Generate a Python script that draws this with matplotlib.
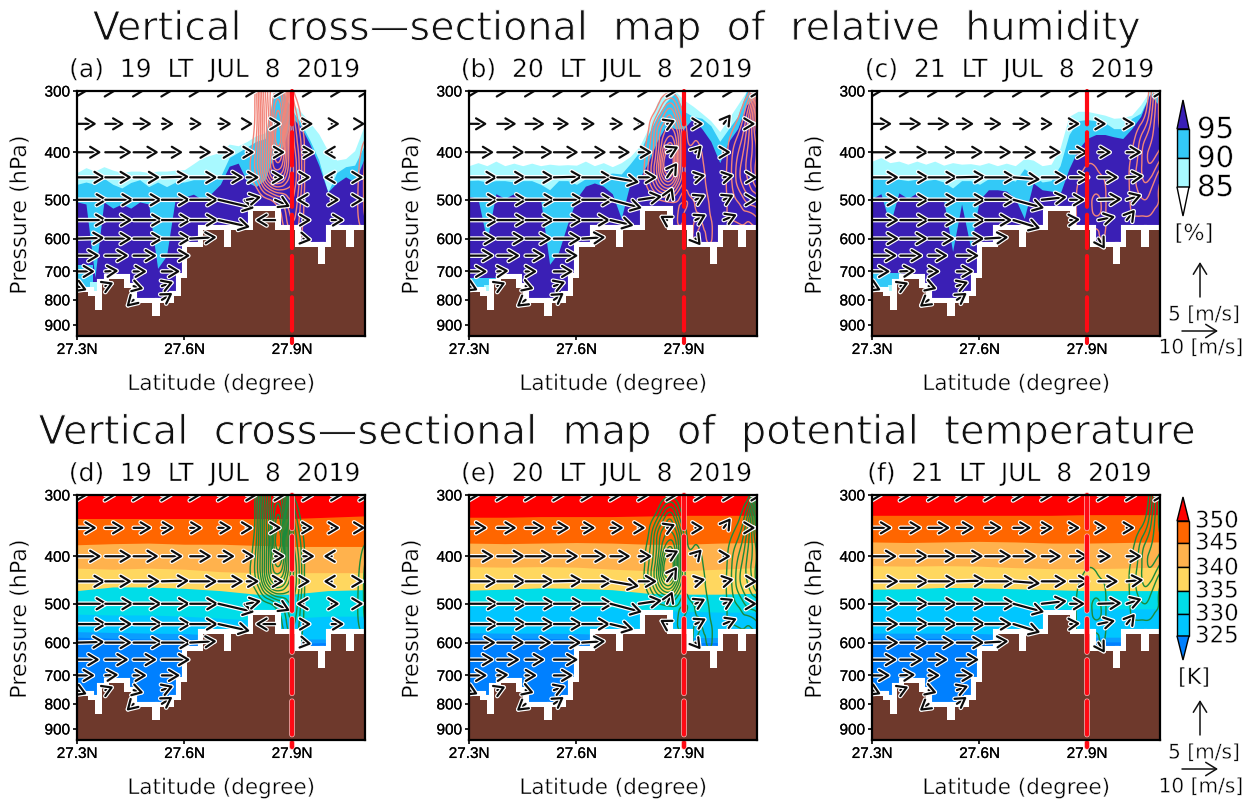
import numpy as np
import matplotlib
matplotlib.use("Agg")
import matplotlib.pyplot as plt
import matplotlib.patheffects as pe
import matplotlib.tri as mtri
from matplotlib.patches import FancyArrowPatch

n = np.nan
# ---------- axis values ----------
lat_min, lat_max = 27.3, 28.104
p_top, p_bot = 300, 948
lat_ticks = [27.3, 27.6, 27.9]
lat_tick_labels = ["27.3N", "27.6N", "27.9N"]
p_ticks = [300, 400, 500, 600, 700, 800, 900]
cross_lat = 27.9

# ---------- terrain ----------
terrain_edges = [27.3, 27.331, 27.349, 27.371, 27.389, 27.431, 27.45, 27.51, 27.531, 27.57, 27.589, 27.608,
                 27.652, 27.71, 27.731, 27.791, 27.852, 27.9095, 27.973, 27.993, 28.01, 28.052, 28.0733, 28.11]
terrain_p = [772, 784, 839, 744, 725, 758, 813, 862, 813, 784, 721, 625,
             576, 625, 576, 526, 576, 625, 676, 625, 576, 625, 576]

# ---------- relative humidity tops (hPa) ----------
rh_lats = [27.3 + 0.025 * i for i in range(33)]
p85_a = [440,430,437,428,435,440,437,437,440,437,437,435,434,422,410,405,400,385,388,380,370,365,300,300,317,331,348,367,397,415,412,397,356]
p90_a = [465,460,465,452,465,473,461,455,470,460,470,460,460,455,455,458,449,410,400,390,380,375,300,300,328,349,378,415,483,440,428,425,390]
p95_a = [505,510,720,505,520,510,520,505,510,690,650,494,494,487,500,485,465,427,421,460,470,455,405,390,340,355,385,425,482,462,449,460,415]
p85_b = [426,420,426,417,426,421,426,421,426,423,425,424,425,417,426,420,428,420,408,390,358,317,300,300,313,322,333,345,363,341,320,300,300]
p90_b = [457,456,460,457,457,460,457,457,465,477,457,457,465,453,453,445,441,443,422,400,368,338,316,303,330,338,341,353,380,358,338,300,300]
p95_b = [492,497,607,486,497,486,497,497,500,677,640,560,497,469,462,469,486,546,462,453,420,380,353,358,358,341,358,380,420,380,358,320,310]
p85_c = [417,410,420,417,423,417,423,417,425,420,423,422,425,420,426,421,426,412,415,426,423,392,338,330,330,333,336,341,340,336,320,300,300]
p90_c = [453,454,454,454,457,454,457,454,460,473,457,457,465,453,453,453,458,432,445,460,457,426,368,345,343,345,348,358,358,341,333,305,300]
p95_c = [497,486,562,484,497,484,497,497,500,637,510,625,500,477,477,480,497,546,462,477,480,486,432,395,375,368,368,372,375,358,338,305,320]
# patches low in the western valley: lat_from, lat_to, p_top
low_mid_a, low_pale_a = (27.30, 27.345, 680), (27.335, 27.372, 735)
low_mid_b, low_pale_b = (27.30, 27.38, 722), (27.342, 27.365, 745)
low_mid_c, low_pale_c = (27.30, 27.38, 705), (27.345, 27.37, 745)

# ---------- potential temperature band tops (hPa) ----------
th_lats = [27.3, 27.4, 27.5, 27.6, 27.7, 27.8, 27.9, 28.0, 28.1]
th_d = [[335,335,335,335,335,335,335,333,331],
        [379,377,376,378,378,380,382,382,382],
        [423,425,423,425,430,432,432,432,432],
        [470,462,462,465,470,478,478,470,468],
        [525,527,527,530,535,540,535,530,530],
        [570,572,574,575,580,590,590,590,590],
        [585,588,590,590,592,600,602,600,600]]
th_e = [[333,333,332,332,332,331,330,330,330],
        [376,377,376,375,376,378,378,376,375],
        [420,421,420,421,425,428,428,425,422],
        [469,467,464,465,468,476,478,478,476],
        [506,506,504,505,510,515,518,520,520],
        [573,574,574,575,578,585,586,586,586],
        [587,588,588,590,592,598,600,600,600]]
th_f = [[330,330,330,330,330,330,329,329,329],
        [374,375,374,373,374,376,376,375,374],
        [418,419,418,419,422,424,424,423,421],
        [467,466,463,464,466,468,470,470,470],
        [505,505,503,504,507,511,512,512,512],
        [574,574,574,575,578,584,585,585,585],
        [588,588,588,590,592,597,598,598,598]]
th_colors = ["#ff0000", "#ff6600", "#ffb24d", "#ffd75f", "#00dde8", "#00c6ff", "#0a9dff", "#0080ff"]
rh_colors = ["#a8f9ff", "#33c9f7", "#3a1fb5"]

# ---------- winds: u [m/s], w [scaled] ----------
wind_p = [300, 350, 400, 450, 500, 550, 600, 650, 700, 750, 800]
wind_lats = [27.3 + 0.079 * i for i in range(11)]
u_a = [[3,3,3,3,3,3,3,3,3,3,3],
       [5.5,5.3,5.1,3.4,3.4,3.7,1.8,1.8,2.8,2.3,1.5],
       [6.8,7.4,7,5.9,6,4.6,2.2,2.8,3.2,-2.3,n],
       [8,7.4,7.4,7.6,7.6,7,3.5,2.5,2,-2.3,1],
       [8.6,7.9,7.9,7.9,7.9,10,4,4.2,-2,2.2,1],
       [8.4,7.5,8.3,8.3,7.8,8.8,n,-5.5,2.2,3.5,n],
       [7.7,7.4,8.3,8.3,7.4,n,n,n,2.3,n,n],
       [6.3,6.5,6.5,7.9,n,n,n,n,n,n,n],
       [5,3.7,3.7,5.1,n,n,n,n,n,n,n],
       [2.8,2.3,2.8,3.2,n,n,n,n,n,n,n],
       [n,n,-2,3,n,n,n,n,n,n,n]]
w_a = [[0,0,0,0,0,0,0,0,0,0,0],
       [0,0,0,0,0,0,0,0,0,0,0],
       [0,0,0,0,0,0,0,0,0,0,0],
       [0,0,0,0.1,0,0,0,0,0,0,0],
       [0,0,0,0,0,-1.2,0.4,-1,0,0,0],
       [0,0,0,0,0,-1,0,0,0,0,0],
       [0.1,0,0,0,0.2,0,0,0,-0.2,0,0],
       [0,0,0,0,0,0,0,0,0,0,0],
       [0,0.1,0,0,0,0,0,0,0,0,0],
       [-0.6,0.5,-0.4,0.6,0,0,0,0,0,0,0],
       [0,0,-1,1,0,0,0,0,0,0,0]]
u_b = [[3,3,3,3,3,3,3,3,3,3,3],
       [5.1,5.4,5.4,4.4,3.7,3.7,1.9,2.3,2.3,2,1],
       [7,7.7,7.7,6.9,6.8,5.6,3.7,3.2,1.8,2,n],
       [8,8.1,8.1,8.1,8.6,8,5.1,2.8,2.8,2.8,1.5],
       [8.4,8.4,8.4,8.4,8.8,8.8,6.5,1.5,2.8,2.8,1.4],
       [8.4,8.4,8.1,8.1,7.8,6.5,n,-2,3,3.7,n],
       [7.5,7.7,7.3,7.7,6.5,n,n,n,1.5,n,n],
       [7,6.3,5.4,6.8,n,n,n,n,n,n,n],
       [5.1,3.2,3.2,5.4,n,n,n,n,n,n,n],
       [2.5,2.3,2.3,3.2,n,n,n,n,n,n,n],
       [n,n,-2.5,2.8,n,n,n,n,n,n,n]]
w_b = [[0,0,0,0,0,0,0,0,0,0,0],
       [0,0,0,0,0,0,0,0.5,0,1.4,0],
       [0,0,0,0,0,0,0,0.8,1,0,0],
       [0,0,0,0.1,0,-0.7,0,2.1,0.3,0.3,0],
       [0,0,0,0,0,-1.2,0.5,1.8,0.7,0.7,0],
       [0,0,0,0,0,-0.8,0,0.6,0.8,0.8,0],
       [0,0,0,0,0.2,0,0,0,-1,0,0],
       [0,0,0,0,0,0,0,0,0,0,0],
       [0,0.1,0,0,0,0,0,0,0,0,0],
       [-0.6,0.5,-0.4,0.6,0,0,0,0,0,0,0],
       [0,0,-1,1,0,0,0,0,0,0,0]]
u_c = [[3,3,3,3,3,3,3,3,3,3,3],
       [5.6,6,6,4.8,4.7,5,3.2,2.8,2.3,2.3,n],
       [7,7.9,7.9,7.4,7.4,6.5,5.5,5.1,3.7,4.2,n],
       [7.5,8.1,8.1,8.1,8.6,7.5,7,5.6,5.6,4.7,n],
       [7.5,8.1,8.1,8.1,8.6,8.6,7,4.2,6.5,4.2,n],
       [7.5,8.1,8.1,8.1,7.5,7.5,n,2.8,4.7,2.3,n],
       [7.5,7.7,7.3,7.7,6.5,n,n,n,1.8,n,n],
       [7,6.3,5.4,6.2,n,n,n,n,n,n,n],
       [5.1,4.2,3.2,4.7,n,n,n,n,n,n,n],
       [2.5,2.3,2.3,3.2,n,n,n,n,n,n,n],
       [n,n,-2.5,2.8,n,n,n,n,n,n,n]]
w_c = [[0,0,0,0,0,0,0,0,0,0,0],
       [0,0,0,0,0,0,0,0,0,0,0],
       [0,0,0,0,0,0,0,0,0,0,0],
       [0,0,0,0.1,0,-0.3,0,0,0,0.2,0],
       [0,0,0,0,0,-1.2,0.4,0,0.1,0.7,0],
       [0,0,0,0,0,-1.2,0,0.1,0.5,1.5,0],
       [0,0,0,0,0.2,0,0,0,-1.5,0,0],
       [0,0,0,0,0,0,0,0,0,0,0],
       [0,0.1,0,0,0,0,0,0,0,0,0],
       [-0.6,0.5,-0.4,0.6,0,0,0,0,0,0,0],
       [0,0,-1,1,0,0,0,0,0,0,0]]

# ---------- contoured vertical motion fields ----------
am_lats = [27.76,27.78,27.80,27.82,27.84,27.86,27.88,27.90,27.92,27.94,27.96]
am_p = [300,340,380,420,460,500,550,600,630]
am = [[0,0,1.5,6,9,10,8,2,0,0,0],
      [0,0,1.5,5.5,9,12.5,9,4,1.5,0,0],
      [0,0.5,2,5.5,9.5,13.5,10,5,2.5,0.5,0],
      [0,0.8,2.5,5.5,9,11,9,5.5,3,0.5,0],
      [0,0.6,1.5,4,6.5,7.5,6.5,5,3,0.5,0],
      [0,0,0,0.5,1,2,3,4,2.5,0.5,0],
      [0,0,0,0,0,0.5,1.5,3,2,0.5,0],
      [0,0,0,0,0,0,0.5,1.5,1.2,0.2,0],
      [0,0,0,0,0,0,0,0.5,0.5,0,0]]
ar_lats = [28.06,28.08,28.10,28.12]
ar_p = [360,400,500,560,600]
ar = [[0,0,0,0.5],[0,0.5,1.5,3],[0,0.8,2,3.5],[0,0.6,1.5,3],[0,0,0.3,0.5]]
bm_lats = [27.77,27.79,27.81,27.83,27.85,27.87,27.89,27.91,27.93,27.95,27.97,27.99]
bm_p = [300,330,360,390,420,450,480,510,550,600,630]
bm = [[0,0,0,0,0.5,0.5,0,0,0,0,0,0],
      [0,0,0.5,2,4,4,1.5,0.5,0,0,0,0],
      [0,0.2,2,4.5,6,6,3.5,0.8,0.5,0.2,0,0],
      [0,0.8,2.5,5,8,8,4,1.2,1.2,0.8,0,0],
      [0,1,3,6,10,9,4,1.5,1.5,1.2,0.3,0],
      [0,1,3,5.5,8,7,3.5,1.5,1.5,1.3,0.6,0],
      [0,0.3,1.5,3,4,3.5,1.5,1,1.3,1.3,0.8,0],
      [0,0,0,0.3,0.6,0.8,1,1,1,1.3,1,0],
      [0,0,0,0,0,0.3,1.2,0.6,1,1,1.2,0],
      [0,0,0,0,0,0,0.2,0.3,1.1,0.7,1.2,0],
      [0,0,0,0,0,0,0,0.1,0.5,0.3,0.5,0]]
br_lats = [28.00,28.02,28.04,28.06,28.08,28.10,28.12]
br_p = [300,340,380,420,460,500,540,580]
br = [[0,0,0,0,0.5,5,10],[0,0,0.5,1.5,4,8,12],[0,0.7,1.8,3,5,7,10],[0,1,2.5,4,5.5,7,9],
      [0,1.1,2.5,4,5,6.5,8],[0,1,1.8,2.5,3.5,4,5],[0,1,1.2,1.5,1.5,2,2.5],[0,0.8,0.5,0.5,0.5,0.5,0.5]]
cm_lats = [27.85,27.87,27.89,27.91,27.93,27.95,27.97]
cm_p = [400,430,460,500,530,560,590,620]
cm = [[0,0,0,0,0,0,0],[0,0.3,0.9,1.2,0.9,0.5,0],[0,0.8,1.3,1.4,1.4,1,0],[0,1,1.2,1.8,2.3,1.2,0.2],
      [0,1,1.2,1.7,2.3,1.2,0.2],[0,1,1.1,1.4,1.3,1.1,0.2],[0,0.8,1,0.5,0.9,1,0.2],[0,0,0,0,0.5,0.8,0]]
cr_lats = [28.00,28.02,28.04,28.06,28.08,28.10,28.12]
cr_p = [300,340,380,420,460,500,540,580]
cr = [[0,0,0,0,2,5,7],[0,0,0.3,1,3,5,6.5],[0,0.5,1.5,3,4,4.5,4],[0,1,2,3.5,4,3,1.5],
      [0,1.1,2.2,3,2.5,1.2,0.6],[0,1,1.5,2,1.5,1,0.5],[0,0.9,1,1,0.9,0.6,0.3],[0,0.5,0.5,0.3,0,0,0]]

titles_top = ["(a)  19  LT  JUL  8  2019", "(b)  20  LT  JUL  8  2019", "(c)  21  LT  JUL  8  2019"]
titles_bot = ["(d)  19  LT  JUL  8  2019", "(e)  20  LT  JUL  8  2019", "(f)  21  LT  JUL  8  2019"]
rh_bar_labels = ["95", "90", "85"]
th_bar_labels = ["350", "345", "340", "335", "330", "325"]

# ---------- layout ----------
W, H = 1252, 800
BROWN = "#6e392c"
SALMON = "#f2857a"
GREEN = "#1c8a3a"
sans = "DejaVu Sans"
tickfont = "Liberation Sans"
fig = plt.figure(figsize=(W / 100, H / 100), dpi=100, facecolor="white")
xlefts = [77, 469, 872]
tops = [91, 495]
pw, ph = 288, 245
thin = [pe.Stroke(linewidth=0.3, foreground="white")]
thin_big = [pe.Stroke(linewidth=0.7, foreground="white")]


def make_ax(x, y):
    ax = fig.add_axes([x / W, 1 - (y + ph) / H, pw / W, ph / H])
    ax.set_yscale("log")
    ax.set_xlim(lat_min, lat_max)
    ax.set_ylim(p_bot, p_top)
    ax.set_xticks(lat_ticks)
    ax.set_xticklabels(lat_tick_labels, fontfamily=tickfont, fontsize=11,
                       path_effects=[pe.withStroke(linewidth=0.15, foreground="black")])
    ax.set_yticks(p_ticks)
    ax.set_yticklabels([str(v) for v in p_ticks], fontfamily=tickfont, fontsize=11,
                       path_effects=[pe.withStroke(linewidth=0.15, foreground="black")])
    ax.minorticks_off()
    ax.tick_params(axis="both", length=3, width=1.2, direction="out", pad=2)
    for s in ax.spines.values():
        s.set_linewidth(1.6)
        s.set_zorder(8)
    return ax


def contour_field(ax, lats, ps, field, levels, color):
    LAT, P = np.meshgrid(lats, ps)
    X = (LAT - lat_min) / 0.804
    Y = np.log(P / p_top) / 1.15
    t = mtri.Triangulation(X.ravel(), Y.ravel())
    refiner = mtri.UniformTriRefiner(t)
    tr, z = refiner.refine_field(np.array(field, float).ravel(), subdiv=3)
    t2 = mtri.Triangulation(lat_min + tr.x * 0.804, p_top * np.exp(tr.y * 1.15), tr.triangles)
    ax.tricontour(t2, z, levels=levels, colors=color, linewidths=1.0, zorder=2)


def terrain(ax):
    ax.fill_between(terrain_edges, terrain_p + [terrain_p[-1]], 1100, step="post", facecolor="white",
                    edgecolor="white", linewidth=8.0, zorder=3, joinstyle="miter")
    ax.fill_between(terrain_edges, terrain_p + [terrain_p[-1]], 1100, step="post", facecolor=BROWN,
                    edgecolor="none", linewidth=0, zorder=3.1)


def winds(ax, u, w):
    kx = 3.6 * 0.804 / pw
    for j, p in enumerate(wind_p):
        for i, lat in enumerate(wind_lats):
            if np.isnan(u[j][i]):
                continue
            tip = (lat + u[j][i] * kx, p * np.exp(-w[j][i] * 7 / 213))
            a = FancyArrowPatch((lat, p), tip, arrowstyle="->,head_length=0.6,head_width=0.36",
                                mutation_scale=11, shrinkA=0, shrinkB=0, color="#0c0c0c", linewidth=1.6,
                                zorder=4, path_effects=[pe.withStroke(linewidth=3.3, foreground="white")])
            ax.add_patch(a)


def cross(ax, halo):
    effects = [pe.withStroke(linewidth=4.0, foreground="#ffb8b8")] if halo else []
    ax.plot([cross_lat, cross_lat], [p_top, 978], color="#ff0a14", lw=3.0, clip_on=False, zorder=6,
            dashes=(8, 1.9), path_effects=effects, dash_capstyle="round")


rh_sets = [(p85_a, p90_a, p95_a, low_mid_a, low_pale_a), (p85_b, p90_b, p95_b, low_mid_b, low_pale_b),
           (p85_c, p90_c, p95_c, low_mid_c, low_pale_c)]
th_sets = [th_d, th_e, th_f]
wind_sets = [(u_a, w_a), (u_b, w_b), (u_c, w_c)]
contour_sets = [[(am_lats, am_p, am, np.arange(1, 14)), (ar_lats, ar_p, ar, [1, 2, 3])],
                [(bm_lats, bm_p, bm, np.arange(1, 10)), (br_lats, br_p, br, np.arange(1, 12))],
                [(cm_lats, cm_p, cm, [1, 2]), (cr_lats, cr_p, cr, np.arange(1, 7))]]

for k in range(3):
    # relative humidity row
    ax = make_ax(xlefts[k], tops[0])
    p85, p90, p95, lm, lp = rh_sets[k]
    ax.fill_between(rh_lats, p85, 1100, color=rh_colors[0], lw=0, zorder=1)
    ax.fill_between(rh_lats, p90, 1100, color=rh_colors[1], lw=0, zorder=1.1)
    ax.fill_between(rh_lats, p95, 1100, color=rh_colors[2], lw=0, zorder=1.2)
    ax.fill_between([lm[0], lm[1]], lm[2], 1100, color=rh_colors[1], lw=0, zorder=1.3)
    ax.fill_between([lp[0], lp[1]], lp[2], 1100, color=rh_colors[0], lw=0, zorder=1.4)
    for lats, ps, fld, lev in contour_sets[k]:
        contour_field(ax, lats, ps, fld, lev, SALMON)
    terrain(ax)
    winds(ax, *wind_sets[k])
    cross(ax, False)

    # potential temperature row
    ax = make_ax(xlefts[k], tops[1])
    ax.fill_between(th_lats, 250, 1100, color=th_colors[0], lw=0, zorder=1)
    for b, c in zip(th_sets[k], th_colors[1:]):
        ax.fill_between(th_lats, b, 1100, color=c, lw=0, zorder=1.1)
    for lats, ps, fld, lev in contour_sets[k]:
        contour_field(ax, lats, ps, fld, lev, GREEN)
    terrain(ax)
    winds(ax, *wind_sets[k])
    cross(ax, True)

# ---------- overlay in pixel space for text, colour bars, reference arrows ----------
ov = fig.add_axes([0, 0, 1, 1], zorder=20)
ov.set_xlim(0, W)
ov.set_ylim(H, 0)
ov.axis("off")
ov.patch.set_alpha(0)

ov.text(618, 29, "Vertical  cross\u2014sectional  map  of  relative  humidity", ha="center", va="center",
        fontsize=28.6, family=sans, color="#111111", path_effects=thin_big)
ov.text(618, 433, "Vertical  cross\u2014sectional  map  of  potential  temperature", ha="center", va="center",
        fontsize=28.8, family=sans, color="#111111", path_effects=thin_big)
centres = [215, 607, 1010]
for k in range(3):
    ov.text(centres[k], 70, titles_top[k], ha="center", va="center", fontsize=18, family=sans, path_effects=thin)
    ov.text(centres[k], 474, titles_bot[k], ha="center", va="center", fontsize=18, family=sans, path_effects=thin)
    for yb in [384, 788]:
        ov.text(centres[k] + 6, yb, "Latitude (degree)", ha="center", va="center", fontsize=15.5, family=sans,
                path_effects=thin)
    for yc in [215, 619]:
        ov.text(xlefts[k] - 57, yc, "Pressure (hPa)", ha="center", va="center", rotation=90,
                fontsize=16, family=sans, path_effects=thin)


def bar(ys, colors):
    xa, xb = 1177, 1189
    xm = (xa + xb) / 2
    ov.fill([xa, xm, xb], [ys[1], ys[0], ys[1]], facecolor=colors[0], edgecolor="black", lw=1)
    for i in range(1, len(ys) - 2):
        ov.fill([xa, xb, xb, xa], [ys[i], ys[i], ys[i + 1], ys[i + 1]], facecolor=colors[i], edgecolor="black", lw=1)
    ov.fill([xa, xm, xb], [ys[-2], ys[-1], ys[-2]], facecolor=colors[-1], edgecolor="black", lw=1)


bar([100, 129, 158, 187, 216], rh_colors[::-1] + ["white"])
bar([497, 521, 543, 567, 591, 614, 636, 660], ["#ff0000", "#ff6600", "#ffb24d", "#ffd75f", "#00dde8", "#00c6ff", "#0080ff"])
for lab, y in zip(rh_bar_labels, [130, 159, 188]):
    ov.text(1197, y, lab, ha="left", va="center", fontsize=21, family=sans, path_effects=thin)
for lab, y in zip(th_bar_labels, [521, 543, 568, 591, 614, 636]):
    ov.text(1195, y, lab, ha="left", va="center", fontsize=16.5, family=sans, path_effects=thin)
ov.text(1194, 234, "[%]", ha="center", va="center", fontsize=16, family=sans, path_effects=thin)
ov.text(1194, 678, "[K]", ha="center", va="center", fontsize=16, family=sans, path_effects=thin)

for y_up0, y_up1, y5, yh, y10 in [(297, 262, 315, 331, 348), (735, 700, 753, 769, 787)]:
    ov.add_patch(FancyArrowPatch((1200, y_up0), (1200, y_up1), arrowstyle="->,head_length=0.65,head_width=0.4",
                                 mutation_scale=12, shrinkA=0, shrinkB=0, color="#111111", lw=1.1))
    ov.add_patch(FancyArrowPatch((1182, yh), (1218, yh), arrowstyle="->,head_length=0.65,head_width=0.4",
                                 mutation_scale=12, shrinkA=0, shrinkB=0, color="#111111", lw=1.1))
    ov.text(1204, y5, "5 [m/s]", ha="center", va="center", fontsize=14.5, family=sans, path_effects=thin)
    ov.text(1201, y10, "10 [m/s]", ha="center", va="center", fontsize=14.5, family=sans, path_effects=thin)

fig.savefig("out.png", dpi=100)
